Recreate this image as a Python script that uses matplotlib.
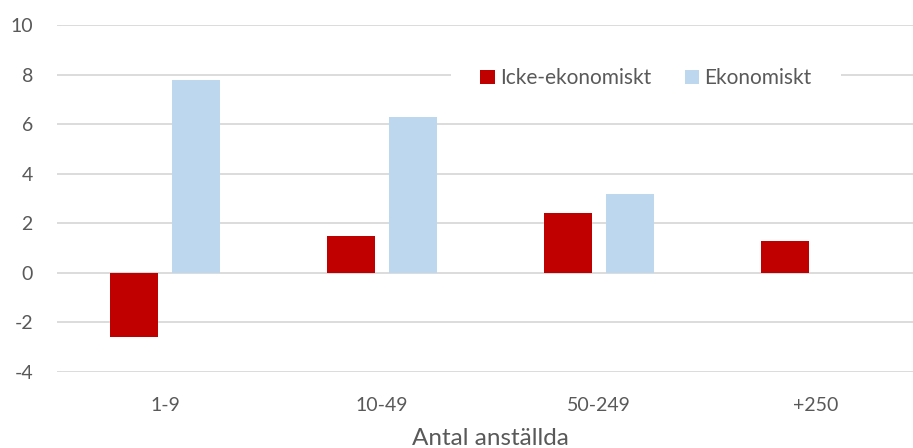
import matplotlib.pyplot as plt
import numpy as np

plt.rcParams['font.family'] = ['Lato', 'DejaVu Sans']
plt.rcParams['axes.unicode_minus'] = False

categories = ['1-9', '10-49', '50-249', '+250']
icke_ekonomiskt = [-2.6, 1.5, 2.4, 1.3]
ekonomiskt = [7.8, 6.3, 3.2, 0]

x = np.arange(len(categories))
w = 0.221
off = 0.143

fig = plt.figure(figsize=(9.13, 4.48), dpi=100)
ax = fig.add_axes([56.5/913, 76/448, 868/913, 347/448])

ax.bar(x - off, icke_ekonomiskt, w, color='#C00000', label='Icke-ekonomiskt', zorder=3)
ax.bar(x + off, ekonomiskt, w, color='#BDD7EE', label='Ekonomiskt', zorder=3)

ax.set_xlim(-0.5, 3.5)
ax.set_ylim(-4, 10)
ax.set_yticks(range(-4, 11, 2))
ax.set_xticks(x)
ax.set_xticklabels(categories)
ax.grid(axis='y', color='#d9d9d9', linewidth=1.3, zorder=0)
for s in ax.spines.values():
    s.set_visible(False)
ax.tick_params(length=0, labelsize=14, colors='#595959')
ax.tick_params(axis='x', pad=18)
ax.tick_params(axis='y', pad=17)
ax.set_xlabel('Antal anställda', fontsize=17.5, color='#595959', labelpad=10)

leg = ax.legend(loc='center', bbox_to_anchor=(0.679, 0.847), ncol=2, frameon=True,
                fontsize=15, handlelength=0.7, handleheight=0.7, handletextpad=0.25,
                columnspacing=1.6, borderpad=1.4)
leg.get_frame().set_edgecolor('none')
leg.get_frame().set_facecolor('white')
leg.get_frame().set_alpha(1)
for t in leg.get_texts():
    t.set_color('#595959')

fig.savefig('out.png', dpi=100)
